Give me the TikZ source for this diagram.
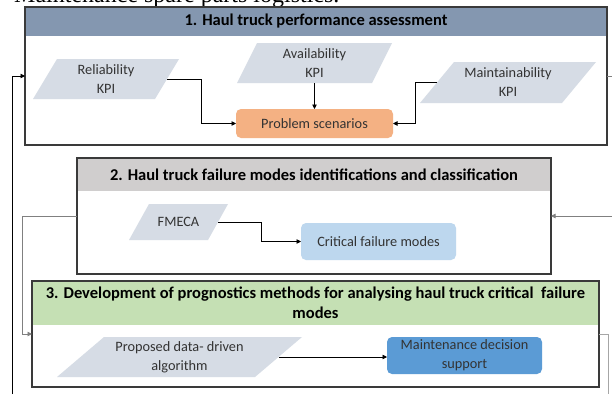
\documentclass[tikz,border=0pt]{standalone}
\usepackage{fontspec}
\setmainfont{Carlito}
\newfontfamily\serifface{Liberation Serif}
\usetikzlibrary{arrows.meta}
\definecolor{hdrA}{HTML}{8497B0}
\definecolor{hdrB}{HTML}{D0CECE}
\definecolor{hdrC}{HTML}{C5E0B4}
\definecolor{paracol}{HTML}{D6DCE5}
\definecolor{probcol}{HTML}{F4B183}
\definecolor{critcol}{HTML}{BDD7EE}
\definecolor{maintcol}{HTML}{5B9BD5}
\definecolor{boxc}{HTML}{3A3A3A}
\definecolor{txtc}{HTML}{333333}
\definecolor{lineG}{HTML}{A6A6A6}
\newcommand\bodyfont{\fontsize{14.3}{19}\selectfont}
\newcommand\titlefont{\bfseries\fontsize{16.5}{20}\selectfont}
\newcommand\para[7]{%
  \fill[paracol] (#2,{#3+#5}) -- ({#2+#4},{#3+#5}) -- ({#2+#4+#6},#3) -- ({#2+#6},#3) -- cycle;
  \node[ptext] (#1) at ({#2+(#4+#6)/2},{#3+#5/2}) {#7};
  \coordinate (#1-e) at ({#2+#4+#6/2},{#3+#5/2});
  \coordinate (#1-w) at ({#2+#6/2},{#3+#5/2});
  \coordinate (#1-s) at ({#2+(#4+#6)/2},{#3+#5});
}
\begin{document}
\begin{tikzpicture}[x=1pt,y=-1pt,
  box/.style={draw=boxc, line width=1.2pt, fill=white, inner sep=0pt, outer sep=0pt},
  boxline/.style={draw=boxc, line width=1.2pt},
  hdr/.style={inner sep=0pt, outer sep=0pt, font=\titlefont, align=center, text=black},
  ptext/.style={font=\bodyfont, align=center, text=txtc, inner sep=0pt},
  rbox/.style={rounded corners=5pt, font=\bodyfont, align=center, text=txtc, inner sep=0pt, outer sep=0pt},
  conn/.style={draw=black, line width=0.7pt, -{Triangle[length=4.5pt,width=4.5pt]}},
  connG/.style={draw=lineG, line width=0.9pt},
]
\useasboundingbox (0,0) rectangle (612,394);
\fill[white] (0,0) rectangle (612,394);

% clipped line of text at the very top
\begin{scope}
\clip (0,0) rectangle (612,394);
\node[font=\serifface\fontsize{24}{28}\selectfont, anchor=base west, inner sep=0pt] (toptext) at (14,2.5) {Maintenance spare parts logistics.};
\end{scope}

% ---------- Box 1 ----------
\node[box, minimum width=582pt, minimum height=138pt] (b1) at (316,76) {};
\node[hdr, fill=hdrA, minimum width=582pt, minimum height=29pt] (h1) at (316,21.5) {1. Haul truck performance assessment};
\draw[boxline] (b1.north west) rectangle (b1.south east);

\para{rel}{33}{59}{122}{40}{24}{Reliability\\KPI}
\para{avail}{237}{43}{135}{40}{20}{Availability\\KPI}
\para{maint}{420}{62}{142}{41}{34}{Maintainability\\KPI}
\node[rbox, fill=probcol, minimum width=157pt, minimum height=29pt] (prob) at (314.5,123.5) {Problem scenarios};

\draw[conn] (rel-e) -| ([xshift=-35pt]prob.west) -- (prob.west);
\draw[conn] (avail-s) -- (prob.north);
\draw[conn] (maint-w) -| ([xshift=22pt]prob.east) -- (prob.east);

% ---------- Box 2 ----------
\node[box, minimum width=474pt, minimum height=116pt] (b2) at (314,216) {};
\node[hdr, fill=hdrB, minimum width=474pt, minimum height=33pt] (h2) at (314,174.5) {2. Haul truck failure modes identifications and classification};
\draw[boxline] (b2.north west) rectangle (b2.south east);

\para{fmeca}{129}{204}{79}{36}{20}{FMECA}
\node[rbox, fill=critcol, minimum width=155pt, minimum height=37pt] (crit) at (378.5,241.5) {Critical failure modes};
\draw[conn] (fmeca-e) -| ([xshift=-40pt]crit.west) -- (crit.west);

% ---------- Box 3 ----------
\node[box, minimum width=567pt, minimum height=106pt] (b3) at (315.5,334) {};
\node[hdr, fill=hdrC, minimum width=567pt, minimum height=44pt] (h3) at (315.5,303) {3. Development of prognostics methods for analysing haul truck critical\ \ failure\\modes};
\draw[boxline] (b3.north west) rectangle (b3.south east);

\para{prop}{57}{337}{198}{40}{47}{Proposed data- driven\\algorithm}
\node[rbox, fill=maintcol, minimum width=155pt, minimum height=37pt] (maintd) at (464.5,355.5) {Maintenance decision\\support};
\draw[conn] (prop-e) -- (prop-e -| maintd.west);

% ---------- feedback lines ----------
\coordinate (lb) at (12,394);
\draw[conn] (lb) |- (b1.west);
\draw[connG, -{Triangle[length=4.5pt,width=4.5pt]}, draw=gray] (b2.west) -| ([xshift=-10pt]b3.west) -- (b3.west);
\coordinate (r1) at (612,76);
\draw[draw=gray, line width=0.7pt] (b1.east) -- (r1);
\coordinate (r2) at (612,216);
\draw[conn, draw=gray] (r2) -- (b2.east);
\coordinate (r3) at (608,394);
\draw[connG] (b3.east) -| (r3);
\end{tikzpicture}
\end{document}
